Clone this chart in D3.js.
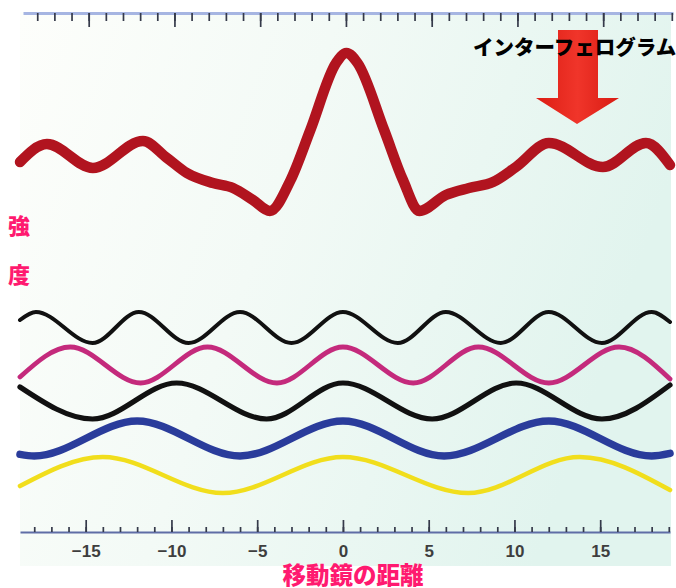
<!DOCTYPE html>
<html>
<head>
<meta charset="utf-8">
<script src="https://cdn.jsdelivr.net/npm/d3@7"></script>
<style>
  body { margin: 0; background: #ffffff; }
  svg { display: block; }
</style>
</head>
<body>
<svg id="chart" width="676" height="588"></svg>
<script>
// Mirror displacement axis (x) and tick labels
const majorTicks = [-15, -10, -5, 0, 5, 10, 15];
const minorTicks = d3.range(-18, 20);

// Interferogram: summed intensity vs. mirror displacement
const interferogramX = [-18.83, -17.26, -14.58, -11.66, -10.26, -9.1, -7.58, -6.41, -5.25, -4.26,
  -3.05, -1.9, -0.4, 0.2, 0.85, 2.4, 3.5, 4.45, 6.0, 7.35, 8.75, 10.09, 12.01, 15.16, 17.67, 19.07];
const interferogramY = [18.5, 19.4, 18.2, 19.55, 18.7, 17.95, 17.45, 17.2, 16.6, 16.05,
  17.6, 20.1, 23.45, 23.95, 23.45, 20.1, 17.6, 16.05, 16.85, 17.2, 17.5, 18.25, 19.45, 18.25, 19.45, 18.35];

// Single-wavenumber components (extrema and edge values)
const wave1X = [-18.83, -17.9, -14.6, -11.9, -9.0, -6.0, -3.0, 0, 3.2, 6.0, 9.2, 12.0, 15.1, 18.0, 19.07];
const wave1Y = [10.6, 11.0, 9.45, 11.0, 9.45, 11.0, 9.45, 11.0, 9.45, 11.0, 9.45, 11.0, 9.45, 11.0, 10.5];

const wave2X = [-18.83, -15.9, -11.8, -7.9, -3.85, 0, 4.1, 7.9, 12.0, 16.1, 19.07];
const wave2Y = [7.75, 9.25, 7.45, 9.25, 7.45, 9.25, 7.45, 9.25, 7.45, 9.25, 7.65];

const wave3X = [-18.83, -14.6, -9.7, -4.45, 0, 5.2, 10.1, 15.1, 19.07];
const wave3Y = [7.25, 5.65, 7.45, 5.65, 7.45, 5.65, 7.45, 5.65, 7.35];

const wave4X = [-18.83, -18.0, -12.0, -6.0, 0, 5.9, 12.0, 18.0, 19.07];
const wave4Y = [3.88, 3.8, 5.55, 3.8, 5.55, 3.8, 5.55, 3.8, 3.93];

const wave5X = [-18.83, -14.0, -7.0, 0, 7.3, 13.8, 19.07];
const wave5Y = [2.3, 3.75, 1.95, 3.75, 1.95, 3.75, 2.1];

const componentColors = ["#111111", "#c42a7c", "#111111", "#2a3c9b", "#f1de1c"];
const componentWidths = [4, 4.8, 5.2, 7.5, 4.6];

const svg = d3.select("#chart");
const defs = svg.append("defs");

const x = d3.scaleLinear().domain([-18.83, 19.07]).range([20, 670]);
const y = d3.scaleLinear().domain([0, 26]).range([532, 12]);

// Plot background with a faint mint tint toward the right
const bg = defs.append("linearGradient").attr("id", "bgGrad")
  .attr("x1", "0%").attr("y1", "0%").attr("x2", "100%").attr("y2", "30%");
bg.append("stop").attr("offset", "0%").attr("stop-color", "#fdfefb");
bg.append("stop").attr("offset", "45%").attr("stop-color", "#f3faf6");
bg.append("stop").attr("offset", "100%").attr("stop-color", "#e1f4ee");
svg.append("rect").attr("x", 20).attr("y", 12).attr("width", 651).attr("height", 554)
  .attr("fill", "url(#bgGrad)");

// Axes: ticks on both the top and bottom edges
function styleAxis(g, lineColor, lineWidth) {
  g.select(".domain").attr("stroke", lineColor).attr("stroke-width", lineWidth);
  g.selectAll(".tick line").attr("stroke", "#353a4a").attr("stroke-width", 1.7);
}
const topG = svg.append("g").attr("transform", "translate(3,13)");
topG.append("g").call(d3.axisBottom(x).tickValues(minorTicks).tickSize(8).tickSizeOuter(0).tickFormat(""))
  .call(g => styleAxis(g, "#a6b5e2", 3));
topG.append("g").call(d3.axisBottom(x).tickValues(majorTicks).tickSize(14).tickSizeOuter(0).tickFormat(""))
  .call(g => { g.select(".domain").remove(); styleAxis(g, "none", 0); });

const botG = svg.append("g").attr("transform", "translate(0,532)");
botG.append("g").call(d3.axisTop(x).tickValues(minorTicks).tickSize(5).tickSizeOuter(0).tickFormat(""))
  .call(g => styleAxis(g, "#5f6da6", 2));
botG.append("g").call(d3.axisTop(x).tickValues(majorTicks).tickSize(12).tickSizeOuter(0).tickFormat(""))
  .call(g => { g.select(".domain").remove(); styleAxis(g, "none", 0); });
botG.append("g")
  .call(d3.axisBottom(x).tickValues(majorTicks).tickSize(0).tickPadding(13)
    .tickFormat(d => d < 0 ? "\u2212" + Math.abs(d) : String(d)))
  .call(g => {
    g.select(".domain").remove();
    g.selectAll("text")
      .attr("font-family", "'Liberation Sans', Arial, sans-serif")
      .attr("font-weight", "bold").attr("font-size", 17).attr("fill", "#3e3e3e");
  });

const line = d3.line().x(d => x(d[0])).y(d => y(d[1])).curve(d3.curveMonotoneX);

// Component waves
const waves = [[wave1X, wave1Y], [wave2X, wave2Y], [wave3X, wave3Y], [wave4X, wave4Y], [wave5X, wave5Y]];
waves.forEach((w, i) => {
  svg.append("path")
    .datum(d3.zip(w[0], w[1]))
    .attr("d", line)
    .attr("fill", "none")
    .attr("stroke", componentColors[i])
    .attr("stroke-width", componentWidths[i])
    .attr("stroke-linecap", "round");
});

// Interferogram
svg.append("path")
  .datum(d3.zip(interferogramX, interferogramY))
  .attr("d", line)
  .attr("fill", "none")
  .attr("stroke", "#b1141f")
  .attr("stroke-width", 10.5)
  .attr("stroke-linecap", "round")
  .attr("stroke-linejoin", "round");

// Downward arrow pointing at the interferogram
const arrowGrad = defs.append("linearGradient").attr("id", "arrowGrad")
  .attr("x1", "0%").attr("y1", "0%").attr("x2", "100%").attr("y2", "0%");
arrowGrad.append("stop").attr("offset", "0%").attr("stop-color", "#dc1d14");
arrowGrad.append("stop").attr("offset", "50%").attr("stop-color", "#f0352a");
arrowGrad.append("stop").attr("offset", "100%").attr("stop-color", "#d81b13");
svg.append("path")
  .attr("d", "M558,30 L598,30 L598,98 L619,98 L577,124 L536,98 L558,98 Z")
  .attr("fill", "url(#arrowGrad)");

// Labels
svg.append("text")
  .attr("x", 473).attr("y", 46)
  .attr("dominant-baseline", "central")
  .attr("font-family", "'Noto Sans CJK JP', sans-serif")
  .attr("font-weight", 900).attr("font-size", 20.5).attr("fill", "#000")
  .text("インターフェログラム");

const pink = "#ff1a70";
svg.append("text")
  .attr("x", 19).attr("y", 224)
  .attr("text-anchor", "middle").attr("dominant-baseline", "central")
  .attr("font-family", "'Noto Sans CJK JP', sans-serif")
  .attr("font-weight", 900).attr("font-size", 22).attr("fill", pink)
  .text("強");
svg.append("text")
  .attr("x", 19).attr("y", 273)
  .attr("text-anchor", "middle").attr("dominant-baseline", "central")
  .attr("font-family", "'Noto Sans CJK JP', sans-serif")
  .attr("font-weight", 900).attr("font-size", 22).attr("fill", pink)
  .text("度");

svg.append("text")
  .attr("x", 353).attr("y", 574)
  .attr("text-anchor", "middle").attr("dominant-baseline", "central")
  .attr("font-family", "'Noto Sans CJK JP', sans-serif")
  .attr("font-weight", 900).attr("font-size", 23.5).attr("fill", pink)
  .text("移動鏡の距離");
</script>
</body>
</html>
